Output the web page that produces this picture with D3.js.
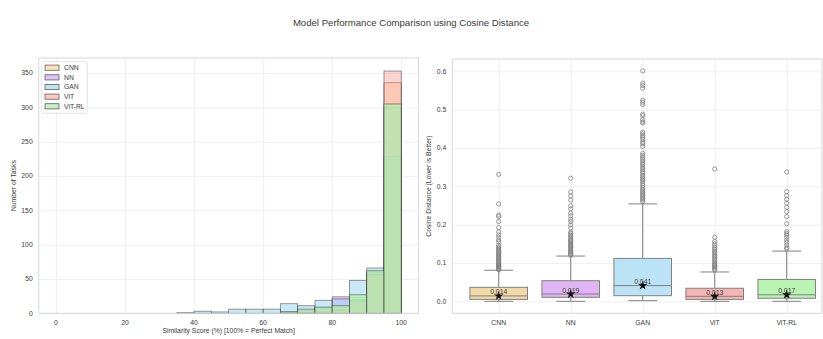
<!DOCTYPE html>
<html>
<head>
<meta charset="utf-8">
<script src="https://cdn.jsdelivr.net/npm/d3@7"></script>
<style>
  body { margin: 0; background: #fff; }
  svg text { font-family: "Liberation Sans", Arial, sans-serif; fill: #3a3a3a; }
</style>
</head>
<body>
<div id="chart"></div>
<script>
// ---- data ----
var models = ["CNN", "NN", "GAN", "ViT", "ViT-RL"];

// histogram bins, 5% wide, 0..100
var binStarts = [0, 5, 10, 15, 20, 25, 30, 35, 40, 45, 50, 55, 60, 65, 70, 75, 80, 85, 90, 95];
var cnnCounts   = [0,0,0,0,0,0,0,0,0,0,0,0,0, 2, 3, 5, 9, 23, 57, 336];
var nnCounts    = [0,0,0,0,0,0,0,0,0,0,0,0,0, 2, 4, 8, 24, 20, 60, 300];
var ganCounts   = [0,0,0,0,0,0,0,1,3,2,6,6,6,14,11,19,21,48,66,229];
var vitCounts   = [0,0,0,0,0,0,0,0,0,0,0,0,0, 0, 1, 2, 5, 18, 56, 353];
var vitrlCounts = [0,0,0,0,0,0,0,0,0,0,0,0,0, 2, 6, 9, 11, 27, 62, 305];

var histTicksX = [0, 20, 40, 60, 80, 100];
var histTicksY = [0, 50, 100, 150, 200, 250, 300, 350];
var boxTicksY = [0.0, 0.1, 0.2, 0.3, 0.4, 0.5, 0.6];

// box plot stats
var q1 = [0.005, 0.0104, 0.0146, 0.005, 0.008];
var medians = [0.014, 0.019, 0.041, 0.013, 0.017];
var q3 = [0.0365, 0.0537, 0.112, 0.034, 0.057];
var whiskLo = [0.0, 0.0, 0.0016, 0.0, 0.0];
var whiskHi = [0.081, 0.118, 0.254, 0.0765, 0.131];

var cnnOut = [0.331, 0.254, 0.225, 0.221, 0.208, 0.192, 0.181, 0.173, 0.167, 0.160, 0.155, 0.146, 0.142, 0.139, 0.136, 0.133, 0.130, 0.127, 0.124, 0.121, 0.118, 0.115, 0.112, 0.110, 0.107, 0.104, 0.101, 0.098, 0.096, 0.094, 0.092, 0.090, 0.088, 0.086, 0.084, 0.082];
var nnOut = [0.321, 0.285, 0.275, 0.264, 0.249, 0.241, 0.230, 0.223, 0.214, 0.208, 0.199, 0.191, 0.181, 0.177, 0.173, 0.169, 0.165, 0.161, 0.158, 0.155, 0.152, 0.149, 0.146, 0.143, 0.140, 0.137, 0.134, 0.131, 0.128, 0.125, 0.122, 0.120];
var ganOut = [0.601, 0.569, 0.563, 0.556, 0.524, 0.519, 0.513, 0.488, 0.484, 0.474, 0.468, 0.465, 0.441, 0.437, 0.432, 0.427, 0.422, 0.415, 0.411, 0.404, 0.386, 0.381, 0.376, 0.371, 0.366, 0.361, 0.357, 0.352, 0.347, 0.343, 0.338, 0.334, 0.329, 0.325, 0.320, 0.316, 0.312, 0.307, 0.302, 0.297, 0.292, 0.288, 0.284, 0.280, 0.276, 0.272, 0.268, 0.264, 0.260];
var vitOut = [0.345, 0.167, 0.156, 0.150, 0.145, 0.140, 0.135, 0.131, 0.127, 0.123, 0.119, 0.115, 0.111, 0.107, 0.103, 0.099, 0.096, 0.093, 0.090, 0.087, 0.084, 0.081];
var vitrlOut = [0.337, 0.286, 0.2755, 0.266, 0.256, 0.245, 0.234, 0.221, 0.202, 0.182, 0.177, 0.173, 0.167, 0.160, 0.154, 0.147, 0.140, 0.136];

var histColors = ["#fbc571", "#c981f1", "#87ceeb", "#f9918d", "#b5eeae"];
var histAlpha = [0.35, 0.4, 0.45, 0.4, 0.8];
var legendColors = ["#fde2b8", "#e2c0f8", "#c3e4f5", "#fcc8c6", "#c6efc2"];
var boxColors = ["#f3d8a8", "#e0b5f3", "#bbe2f5", "#f5b5b3", "#b9f4b3"];

var counts = [cnnCounts, nnCounts, ganCounts, vitCounts, vitrlCounts];
var outliers = [cnnOut, nnOut, ganOut, vitOut, vitrlOut];

var W = 823, H = 339;
var svg = d3.select("#chart").append("svg").attr("width", W).attr("height", H);

svg.append("text")
  .attr("x", 411).attr("y", 26)
  .attr("text-anchor", "middle")
  .style("font-size", "9.6px")
  .text("Model Performance Comparison using Cosine Distance");

// ---------- left: histogram ----------
var hL = 38.7, hR = 418.5, hT = 58, hB = 313.3;
var xH = d3.scaleLinear().domain([-5, 105]).range([hL, hR]);
var yH = d3.scaleLinear().domain([0, 372]).range([hB, hT]);

var gH = svg.append("g");

gH.append("g").attr("transform", "translate(0," + hB + ")")
  .call(d3.axisBottom(xH).tickValues(histTicksX).tickSize(-(hB - hT)).tickFormat(""))
  .call(function(g) { g.select(".domain").remove(); g.selectAll("line").attr("stroke", "#ececec").attr("stroke-width", 0.8); });
gH.append("g").attr("transform", "translate(" + hL + ",0)")
  .call(d3.axisLeft(yH).tickValues(histTicksY).tickSize(-(hR - hL)).tickFormat(""))
  .call(function(g) { g.select(".domain").remove(); g.selectAll("line").attr("stroke", "#ececec").attr("stroke-width", 0.8); });

counts.forEach(function(c, m) {
  gH.append("g").selectAll("rect")
    .data(c.map(function(v, i) { return {x0: binStarts[i], v: v}; }).filter(function(d) { return d.v > 0; }))
    .enter().append("rect")
    .attr("x", function(d) { return xH(d.x0); })
    .attr("width", function(d) { return xH(d.x0 + 5) - xH(d.x0); })
    .attr("y", function(d) { return yH(d.v); })
    .attr("height", function(d) { return yH(0) - yH(d.v); })
    .attr("fill", histColors[m]).attr("fill-opacity", histAlpha[m])
    .attr("stroke", "#333").attr("stroke-opacity", 0.6).attr("stroke-width", 0.8);
});

gH.append("rect").attr("x", hL).attr("y", hT).attr("width", hR - hL).attr("height", hB - hT)
  .attr("fill", "none").attr("stroke", "#d8d8d8").attr("stroke-width", 1);

gH.append("g").selectAll("text").data(histTicksY).enter().append("text")
  .attr("x", hL - 6).attr("y", function(d) { return yH(d) + 2.4; })
  .attr("text-anchor", "end").style("font-size", "6.8px").text(function(d) { return d; });
gH.append("g").selectAll("text").data(histTicksX).enter().append("text")
  .attr("x", function(d) { return xH(d); }).attr("y", 325)
  .attr("text-anchor", "middle").style("font-size", "6.8px").text(function(d) { return d; });

gH.append("text").attr("x", (hL + hR) / 2).attr("y", 333)
  .attr("text-anchor", "middle").style("font-size", "6.8px")
  .text("Similarity Score (%) [100% = Perfect Match]");
gH.append("text").attr("transform", "translate(16," + ((hT + hB) / 2) + ") rotate(-90)")
  .attr("text-anchor", "middle").style("font-size", "6.8px").text("Number of Tasks");

// legend
var leg = gH.append("g");
leg.append("rect").attr("x", 41.7).attr("y", 61.7).attr("width", 45.6).attr("height", 51.6)
  .attr("rx", 2).attr("fill", "#fff").attr("fill-opacity", 0.8).attr("stroke", "#dcdcdc").attr("stroke-width", 0.8);
models.forEach(function(name, i) {
  var yy = 67.7 + i * 9.65;
  leg.append("rect").attr("x", 45).attr("y", yy - 2.6).attr("width", 14).attr("height", 5.2)
    .attr("fill", legendColors[i])
    .attr("stroke", "#333").attr("stroke-opacity", 0.75).attr("stroke-width", 0.8);
  leg.append("text").attr("x", 64).attr("y", yy + 2.4).style("font-size", "6.8px").text(name);
});

// ---------- right: box plot ----------
var bL = 452.3, bR = 822, bT = 59, bB = 313.3;
var xB = d3.scaleLinear().domain([-0.6444, 4.49]).range([bL, bR]);
var yB = d3.scaleLinear().domain([-0.0313, 0.632]).range([bB, bT]);
var idx = models.map(function(d, i) { return i; });

var gB = svg.append("g");
gB.append("g").attr("transform", "translate(0," + bB + ")")
  .call(d3.axisBottom(xB).tickValues(idx).tickSize(-(bB - bT)).tickFormat(""))
  .call(function(g) { g.select(".domain").remove(); g.selectAll("line").attr("stroke", "#ececec").attr("stroke-width", 0.8); });
gB.append("g").attr("transform", "translate(" + bL + ",0)")
  .call(d3.axisLeft(yB).tickValues(boxTicksY).tickSize(-(bR - bL)).tickFormat(""))
  .call(function(g) { g.select(".domain").remove(); g.selectAll("line").attr("stroke", "#ececec").attr("stroke-width", 0.8); });

var boxW = 0.8, capW = 0.4, grey = "#808080";
idx.forEach(function(i) {
  var cx = xB(i);
  var g = gB.append("g");
  // whiskers
  g.append("line").attr("x1", cx).attr("x2", cx).attr("y1", yB(q3[i])).attr("y2", yB(whiskHi[i]))
    .attr("stroke", grey).attr("stroke-width", 1);
  g.append("line").attr("x1", cx).attr("x2", cx).attr("y1", yB(q1[i])).attr("y2", yB(whiskLo[i]))
    .attr("stroke", grey).attr("stroke-width", 1);
  [whiskHi[i], whiskLo[i]].forEach(function(v) {
    g.append("line").attr("x1", xB(i - capW / 2)).attr("x2", xB(i + capW / 2))
      .attr("y1", yB(v)).attr("y2", yB(v)).attr("stroke", grey).attr("stroke-width", 1);
  });
  g.append("rect").attr("x", xB(i - boxW / 2)).attr("width", xB(i + boxW / 2) - xB(i - boxW / 2))
    .attr("y", yB(q3[i])).attr("height", yB(q1[i]) - yB(q3[i]))
    .attr("fill", boxColors[i]).attr("stroke", grey).attr("stroke-width", 1);
  g.append("line").attr("x1", xB(i - boxW / 2)).attr("x2", xB(i + boxW / 2))
    .attr("y1", yB(medians[i])).attr("y2", yB(medians[i])).attr("stroke", grey).attr("stroke-width", 1);
  g.selectAll("circle").data(outliers[i]).enter().append("circle")
    .attr("cx", cx).attr("cy", function(d) { return yB(d); }).attr("r", 2.1)
    .attr("fill", "none").attr("stroke", grey).attr("stroke-width", 0.8);
  g.append("path").attr("d", d3.symbol().type(d3.symbolStar).size(28)())
    .attr("transform", "translate(" + cx + "," + yB(medians[i]) + ")").attr("fill", "#111");
  g.append("text").attr("x", cx).attr("y", yB(medians[i]) - 1.5)
    .attr("text-anchor", "middle").style("font-size", "6.8px")
    .text(d3.format(".3f")(medians[i]));
});

gB.append("rect").attr("x", bL).attr("y", bT).attr("width", bR - bL).attr("height", bB - bT)
  .attr("fill", "none").attr("stroke", "#d8d8d8").attr("stroke-width", 1);

gB.append("g").selectAll("text").data(boxTicksY).enter().append("text")
  .attr("x", bL - 6).attr("y", function(d) { return yB(d) + 2.4; })
  .attr("text-anchor", "end").style("font-size", "6.8px").text(function(d) { return d3.format(".1f")(d); });
gB.append("g").selectAll("text").data(idx).enter().append("text")
  .attr("x", function(d) { return xB(d); }).attr("y", 325)
  .attr("text-anchor", "middle").style("font-size", "6.8px").text(function(d) { return models[d]; });
gB.append("text").attr("transform", "translate(431," + ((bT + bB) / 2) + ") rotate(-90)")
  .attr("text-anchor", "middle").style("font-size", "6.8px").text("Cosine Distance (Lower is Better)");
</script>
</body>
</html>
